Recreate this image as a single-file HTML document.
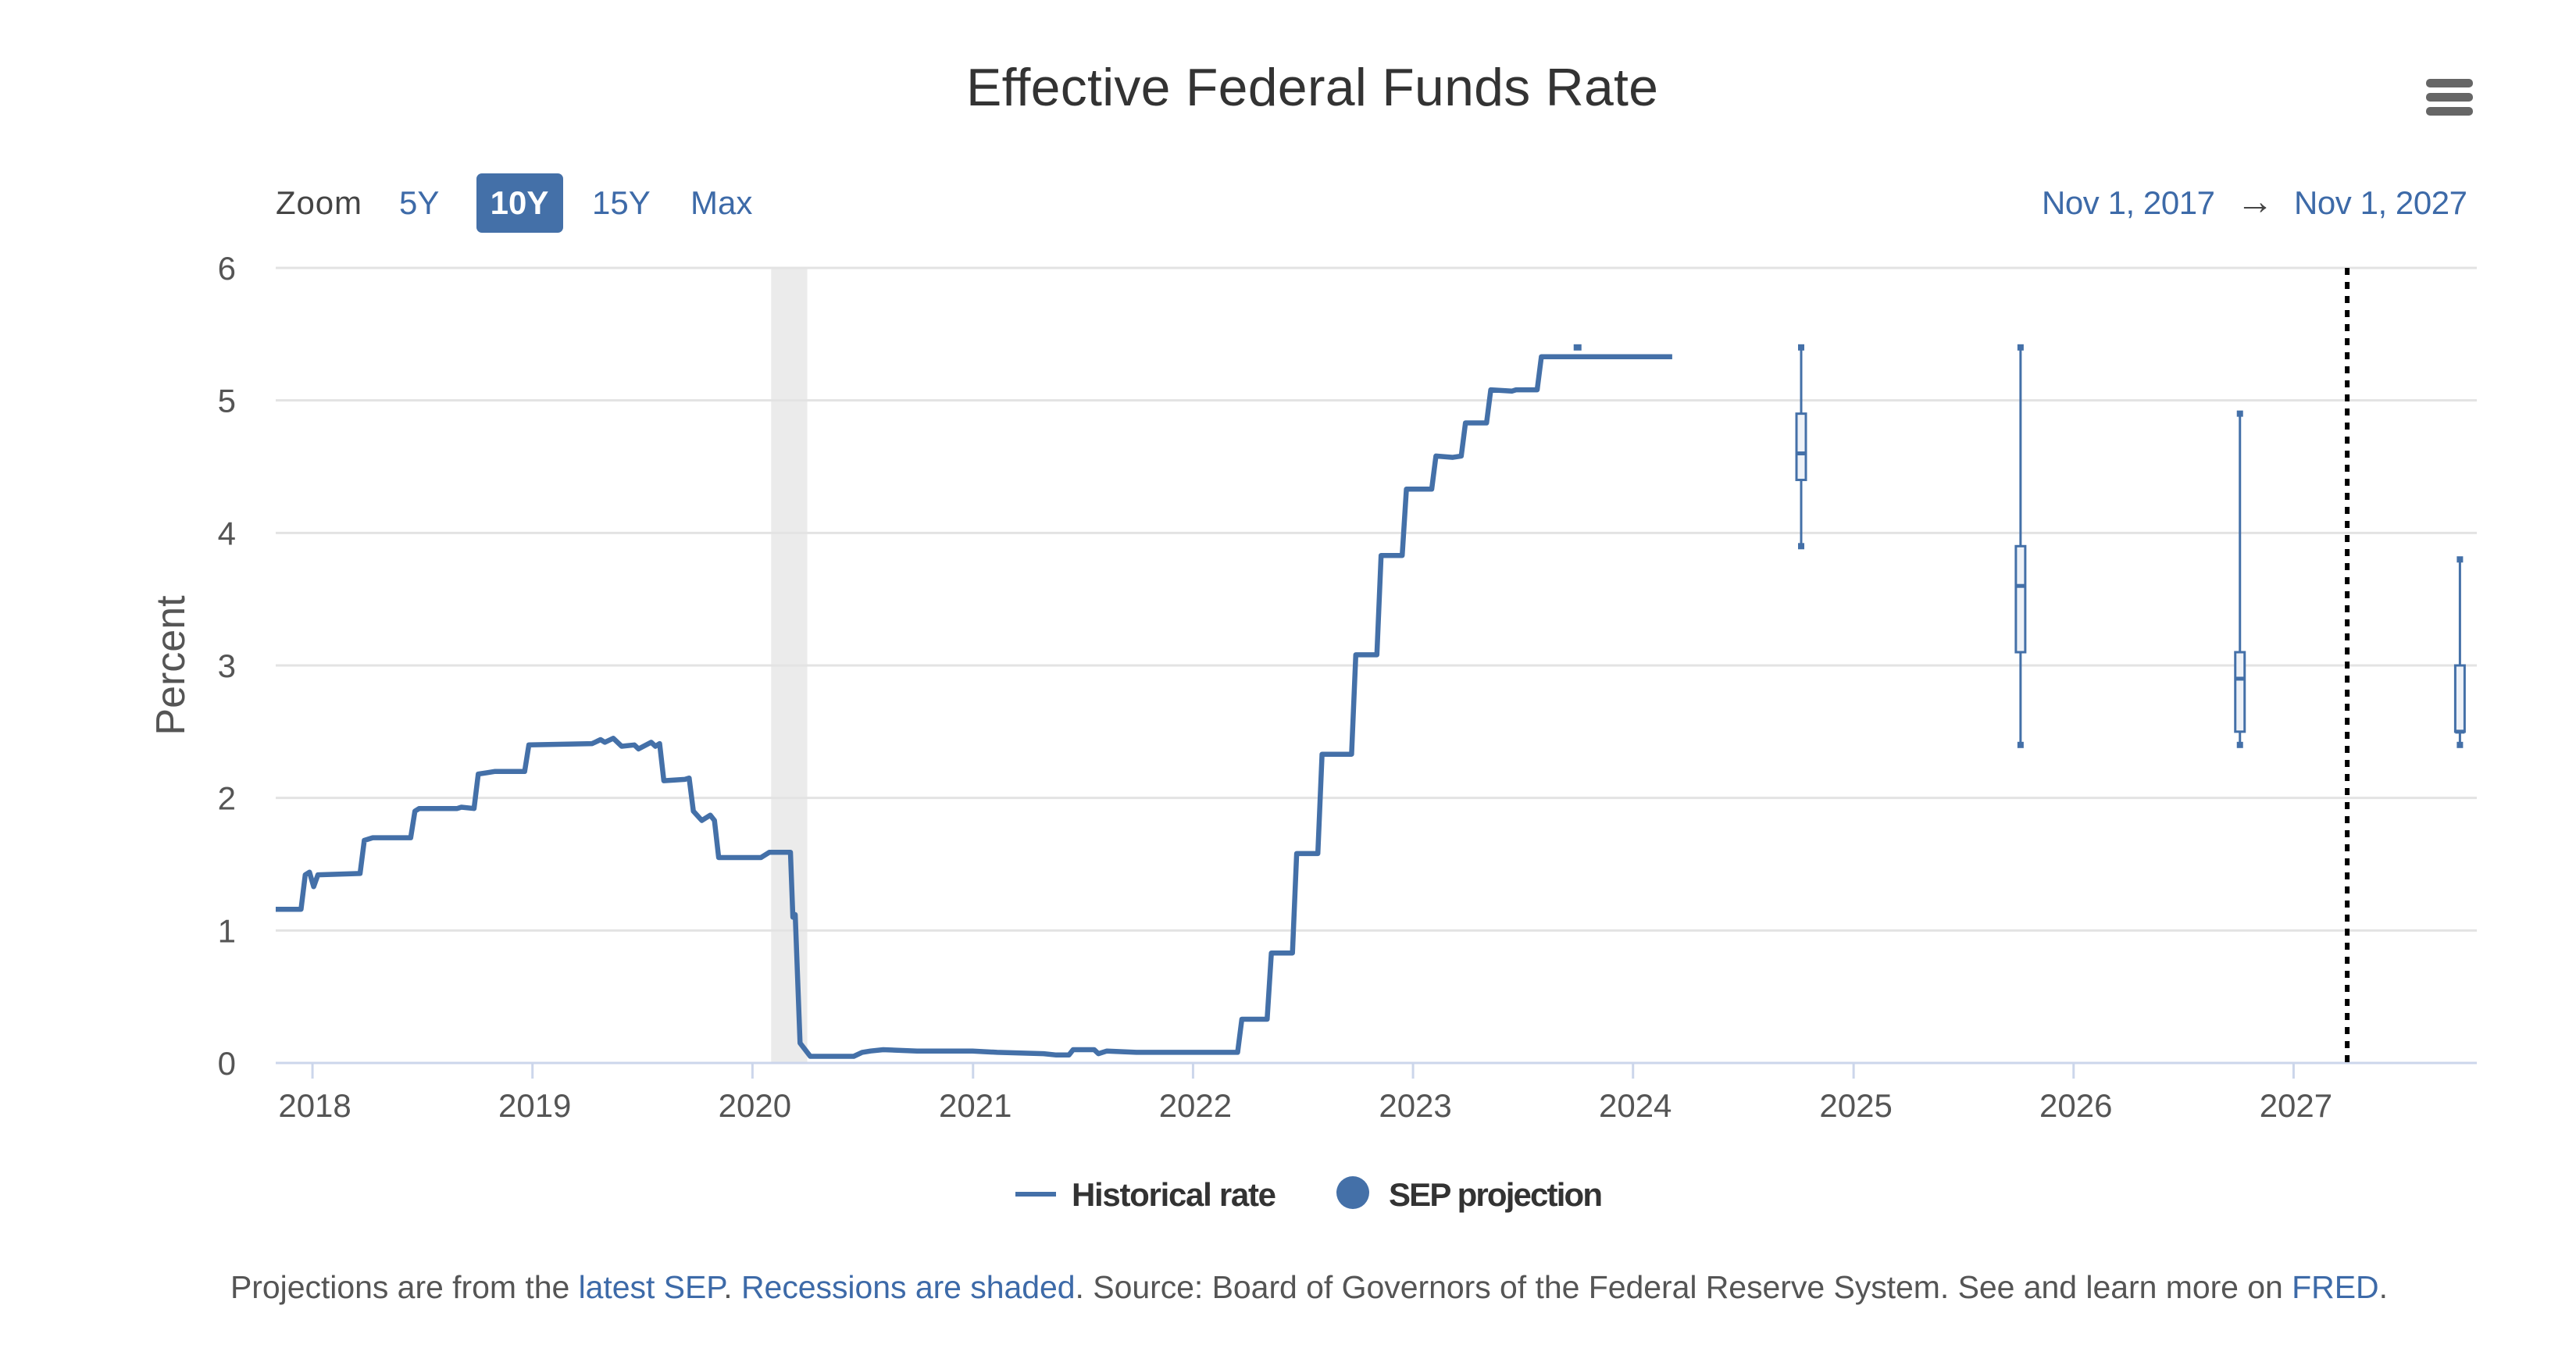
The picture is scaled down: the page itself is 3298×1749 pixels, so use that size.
<!DOCTYPE html>
<html><head><meta charset="utf-8"><style>
html,body{margin:0;padding:0;background:#fff;}
svg{display:block;font-family:"Liberation Sans",Arial,sans-serif;}
</style></head><body>
<svg id="chart" width="3298" height="1749" viewBox="0 0 3298 1749">
<text x="1680" y="135" text-anchor="middle" font-size="68" fill="#333" textLength="886">Effective Federal Funds Rate</text>
<g>
<rect x="3106" y="101" width="60" height="11" rx="5" fill="#666"/>
<rect x="3106" y="119" width="60" height="11" rx="5" fill="#666"/>
<rect x="3106" y="137" width="60" height="11" rx="5" fill="#666"/>
</g>
<text x="353" y="274" font-size="42" fill="#444" textLength="110">Zoom</text>
<text x="511" y="274" font-size="42" fill="#3d6aa8">5Y</text>
<rect x="610" y="222" width="111" height="76" rx="7" fill="#4470a8"/>
<text x="665" y="274" font-size="42" font-weight="bold" fill="#fff" text-anchor="middle">10Y</text>
<text x="758" y="274" font-size="42" fill="#3d6aa8">15Y</text>
<text x="884" y="274" font-size="42" fill="#3d6aa8">Max</text>
<text x="2614" y="274" font-size="42" fill="#3d6aa8" textLength="222">Nov 1, 2017</text>
<text x="2887" y="274" font-size="48" fill="#444" text-anchor="middle">→</text>
<text x="3159" y="274" font-size="42" fill="#3d6aa8" text-anchor="end" textLength="222">Nov 1, 2027</text>
<text transform="translate(236,852) rotate(-90)" text-anchor="middle" font-size="52" fill="#555">Percent</text>
<g id="plot"></g>
<g>
<g>
<rect x="1300" y="1526" width="52" height="6" fill="#4470a8"/>
<text x="1372" y="1544" font-size="42" font-weight="bold" fill="#333" textLength="262">Historical rate</text>
</g>
<g>
<circle cx="1732" cy="1527" r="21" fill="#4470a8"/>
<text x="1778" y="1544" font-size="42" font-weight="bold" fill="#333" textLength="274">SEP projection</text>
</g>
</g>
<text x="295" y="1662" font-size="41" fill="#555" textLength="2762">Projections are from the <tspan fill="#3d6aa8">latest SEP</tspan>. <tspan fill="#3d6aa8">Recessions are shaded</tspan>. Source: Board of Governors of the Federal Reserve System. See and learn more on <tspan fill="#3d6aa8">FRED</tspan>.</text>
</svg>
<script>
const histDates = ['2017-11-01','2017-12-13','2017-12-20','2017-12-27','2018-01-03','2018-01-10','2018-03-21','2018-03-28','2018-04-11','2018-06-13','2018-06-20','2018-06-27','2018-08-29','2018-09-05','2018-09-26','2018-10-03','2018-10-17','2018-10-31','2018-12-19','2018-12-26','2019-04-10','2019-04-24','2019-05-01','2019-05-15','2019-05-29','2019-06-19','2019-06-26','2019-07-17','2019-07-24','2019-07-31','2019-08-07','2019-09-11','2019-09-18','2019-09-25','2019-10-09','2019-10-23','2019-10-30','2019-11-06','2019-12-04','2020-01-15','2020-01-29','2020-03-04','2020-03-08','2020-03-12','2020-03-20','2020-04-06','2020-06-17','2020-07-01','2020-07-15','2020-08-05','2020-09-30','2020-12-31','2021-02-10','2021-04-28','2021-05-19','2021-06-09','2021-06-16','2021-07-21','2021-07-28','2021-08-11','2021-09-29','2021-12-31','2022-03-16','2022-03-23','2022-05-04','2022-05-11','2022-06-15','2022-06-22','2022-07-27','2022-08-03','2022-09-21','2022-09-28','2022-11-02','2022-11-09','2022-12-14','2022-12-21','2023-02-01','2023-02-08','2023-03-08','2023-03-22','2023-03-29','2023-05-03','2023-05-10','2023-06-14','2023-06-21','2023-07-26','2023-08-02','2024-03-06'];
const histRates = [1.16,1.16,1.42,1.44,1.33,1.42,1.43,1.68,1.70,1.70,1.90,1.92,1.92,1.93,1.92,2.18,2.19,2.20,2.20,2.40,2.41,2.44,2.42,2.45,2.39,2.40,2.37,2.42,2.39,2.41,2.13,2.14,2.15,1.90,1.83,1.87,1.83,1.55,1.55,1.55,1.59,1.59,1.10,1.12,0.15,0.05,0.05,0.08,0.09,0.10,0.09,0.09,0.08,0.07,0.06,0.06,0.10,0.10,0.07,0.09,0.08,0.08,0.08,0.33,0.33,0.83,0.83,1.58,1.58,2.33,2.33,3.08,3.08,3.83,3.83,4.33,4.33,4.58,4.57,4.58,4.83,4.83,5.08,5.07,5.08,5.08,5.33,5.33];
const sepDates = ['2023-10-01','2024-10-06','2025-10-05','2026-10-04','2027-10-04'];
const sepLow = [5.4,3.9,2.4,2.4,2.4];
const sepQ1 = [5.4,4.4,3.1,2.5,2.5];
const sepMedian = [5.4,4.6,3.6,2.9,2.5];
const sepQ3 = [5.4,4.9,3.9,3.1,3.0];
const sepHigh = [5.4,5.4,5.4,4.9,3.8];
const yTicks = [0,1,2,3,4,5,6];
const xTickLabels = ['2018','2019','2020','2021','2022','2023','2024','2025','2026','2027'];
const recessionStart = '2020-02-01';
const recessionEnd = '2020-04-01';
const currentDateMarker = '2027-03-31';

const X0 = 353, X1 = 3171, Y0 = 1361, Y6 = 343;
const dStart = Date.parse('2017-11-01'), dEnd = Date.parse('2027-11-01');
const xs = d => X0 + (Date.parse(d) - dStart) / (dEnd - dStart) * (X1 - X0);
const ys = v => Y0 - v / 6 * (Y0 - Y6);
const NS = 'http://www.w3.org/2000/svg';
const plot = document.getElementById('plot');
function mk(tag, attrs, parent) {
  const e = document.createElementNS(NS, tag);
  for (const k in attrs) e.setAttribute(k, attrs[k]);
  (parent || plot).appendChild(e);
  return e;
}
const rec = mk('rect', {x: xs(recessionStart), y: Y6, width: xs(recessionEnd) - xs(recessionStart), height: Y0 - Y6, fill: '#ebebeb'});


yTicks.forEach(t => {
  if (t > 0) {
    const g = mk('line', {x1: X0, x2: X1, y1: ys(t), y2: ys(t), stroke: '#e3e3e3', 'stroke-width': 3});
    
    
  }
  const tx = mk('text', {x: 302, y: ys(t) + 15, 'text-anchor': 'end', 'font-size': 42, fill: '#555'});
  tx.textContent = t;
  
  
});
const ax = mk('line', {x1: X0, x2: X1, y1: Y0, y2: Y0, stroke: '#ccd6eb', 'stroke-width': 3});


xTickLabels.forEach(l => {
  const x = xs(l + '-01-01');
  const tk = mk('line', {x1: x, x2: x, y1: Y0, y2: Y0 + 20, stroke: '#ccd6eb', 'stroke-width': 3});
  
  
  const tx = mk('text', {x: x + 3, y: 1430, 'text-anchor': 'middle', 'font-size': 42, fill: '#555'});
  tx.textContent = l;
  
  
});
const pts = histDates.map((d, i) => xs(d).toFixed(1) + ',' + ys(histRates[i]).toFixed(1)).join(' ');
const line = mk('polyline', {points: pts, fill: 'none', stroke: '#4470a8', 'stroke-width': 6.5, 'stroke-linejoin': 'round'});


sepDates.forEach((d, i) => {
  const x = xs(d);
  const g = mk('g', {});
  
  
  if (sepLow[i] === sepHigh[i]) {
    mk('rect', {x: x - 5, y: ys(sepHigh[i]) - 4, width: 10, height: 8, fill: '#4470a8'}, g);
    return;
  }
  mk('line', {x1: x, x2: x, y1: ys(sepHigh[i]), y2: ys(sepLow[i]), stroke: '#4470a8', 'stroke-width': 3}, g);
  mk('rect', {x: x - 4, y: ys(sepHigh[i]) - 4, width: 8, height: 8, fill: '#4470a8'}, g);
  mk('rect', {x: x - 4, y: ys(sepLow[i]) - 4, width: 8, height: 8, fill: '#4470a8'}, g);
  mk('rect', {x: x - 6, y: ys(sepQ3[i]), width: 12, height: ys(sepQ1[i]) - ys(sepQ3[i]), fill: '#eef2f8', stroke: '#4470a8', 'stroke-width': 3}, g);
  mk('line', {x1: x - 6, x2: x + 6, y1: ys(sepMedian[i]), y2: ys(sepMedian[i]), stroke: '#4470a8', 'stroke-width': 5}, g);
});
const cx = xs(currentDateMarker);
const dl = mk('line', {x1: cx, x2: cx, y1: Y6, y2: Y0, stroke: '#000', 'stroke-width': 6, 'stroke-dasharray': '9,9'});


</script>
</body></html>
